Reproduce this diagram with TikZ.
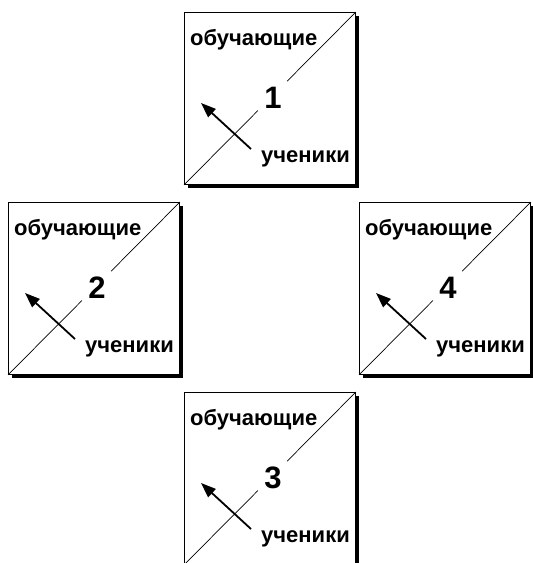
\documentclass[tikz,border=0pt]{standalone}
\usepackage{fontspec}
\setmainfont{Liberation Sans}
\usetikzlibrary{arrows.meta,calc,shadows}
\tikzset{
 quad/.style={draw, line width=0.9pt, fill=white, minimum width=171pt, minimum height=172pt, inner sep=0pt, anchor=north west, drop shadow={shadow xshift=3.5pt, shadow yshift=-3.5pt, opacity=1, fill=black}},
 lbl/.style={font=\bfseries\fontsize{22}{24}\selectfont, inner sep=0pt},
 num/.style={font=\bfseries\fontsize{31}{33}\selectfont, inner sep=0pt},
 diag/.style={line width=0.7pt},
 arr/.style={line width=1.8pt, -{Triangle[length=15pt,width=11pt]}}
}
\newcommand\quadbox[4]{%
 \node[quad] (#1) at (#2,#3) {};
 \draw[diag] (#1.south west) -- ($(#1.south west)!0.43!(#1.north east)$);
 \draw[diag] ($(#1.south west)!0.6!(#1.north east)$) -- (#1.north east);
 \node[lbl, anchor=west] (#1t) at ($(#1.north west)+(6,28)$) {обучающие};
 \node[num] (#1n) at ($(#1.north west)+(89,86)$) {#4};
 \node[lbl, anchor=west] (#1s) at ($(#1.north west)+(77,147)$) {ученики};
 \coordinate (#1a) at ($(#1.north west)+(67,137)$);
 \coordinate (#1b) at ($(#1.north west)+(17,91)$);
 \draw[arr] (#1a) -- (#1b);
}
\begin{document}
\begin{tikzpicture}[x=1pt,y=-1pt]
\useasboundingbox (0,0) rectangle (533,563);
\quadbox{bA}{184}{12}{1}
\quadbox{bB}{8}{202}{2}
\quadbox{bD}{359}{202}{4}
\quadbox{bC}{184}{392}{3}
\end{tikzpicture}
\end{document}
